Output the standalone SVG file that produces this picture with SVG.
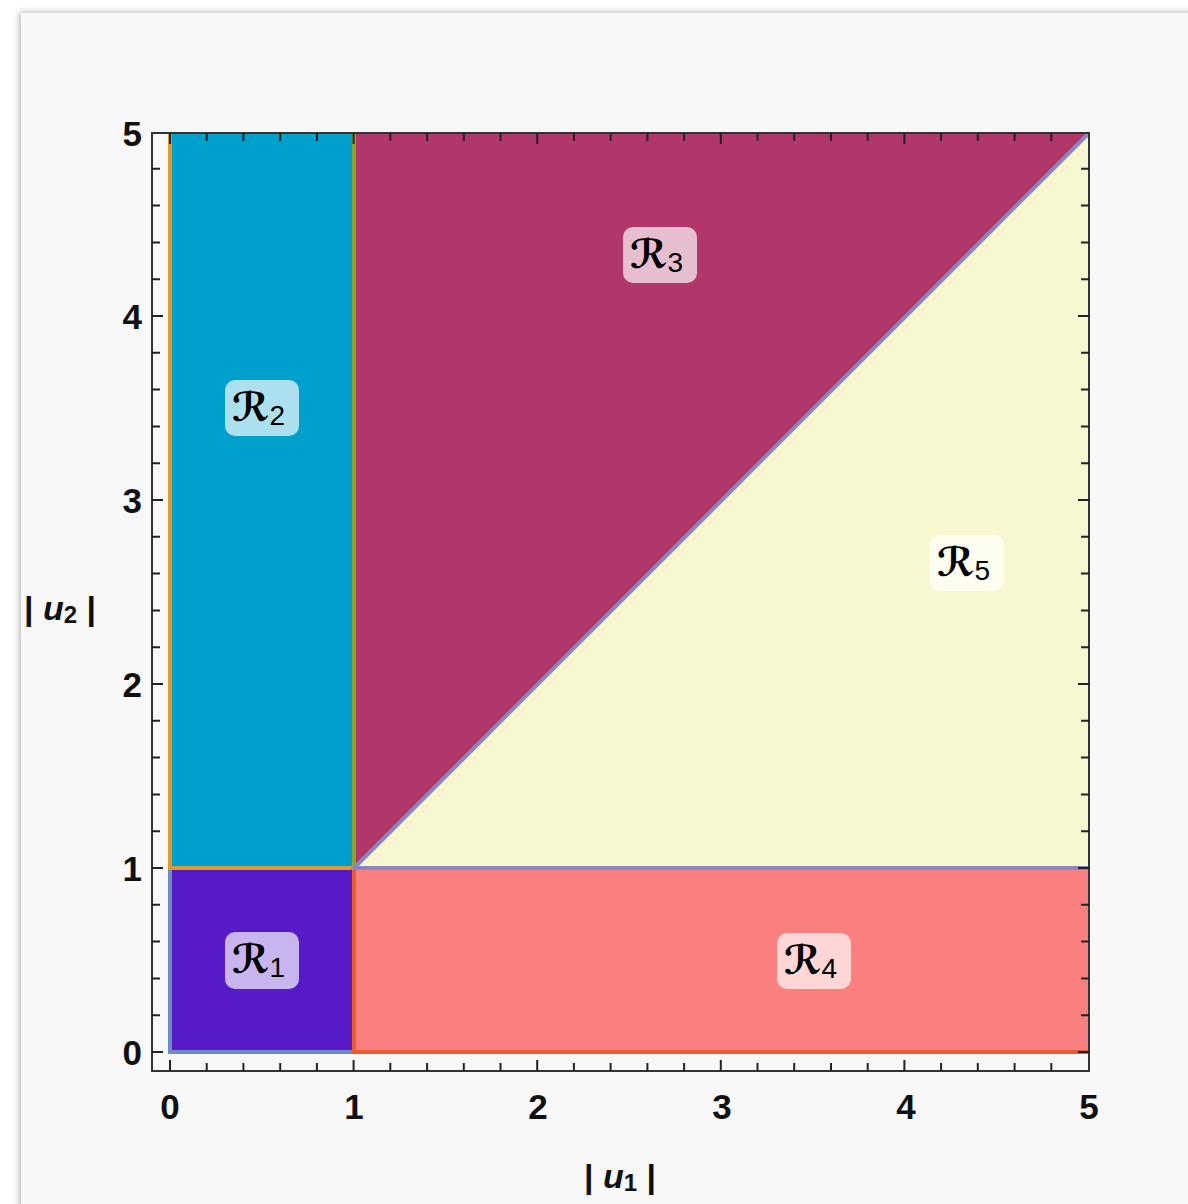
<svg xmlns="http://www.w3.org/2000/svg" width="1188" height="1204" viewBox="0 0 1188 1204">
<defs>
<filter id="sh" x="-5%" y="-5%" width="110%" height="110%"><feGaussianBlur stdDeviation="3"/></filter>
<style>
.tick{stroke:#222;stroke-width:2}
.num{font-family:"Liberation Sans",Arial,sans-serif;font-weight:bold;font-size:35px;fill:#111}
.lbox{fill:#ffffff;fill-opacity:0.68}
.lab{font-family:"DejaVu Sans","Noto Sans",sans-serif;font-weight:bold;font-size:40px;fill:#000}
.sub{font-family:"Liberation Sans",Arial,sans-serif;font-size:28px;fill:#000}
.ax{font-family:"Liberation Sans",Arial,sans-serif;font-weight:bold;font-size:34px;fill:#111}
</style>
</defs>
<rect width="1188" height="1204" fill="#ffffff"/>
<rect x="19" y="12" width="1200" height="1220" fill="#bbbbbb" filter="url(#sh)"/>
<rect x="21" y="13" width="1200" height="1220" fill="#f8f8f8"/>

<g id="regions">
<g id="R1"><rect x="170" y="868" width="184" height="184" fill="#561ac8"/></g>
<g id="R2"><rect x="170" y="133" width="184" height="735" fill="#00a0cc"/></g>
<g id="R3"><polygon points="354,133 1089,133 354,868" fill="#b1366b"/></g>
<g id="R5"><polygon points="1089,133 1089,868 354,868" fill="#f8f8d0"/></g>
<g id="R4"><rect x="354" y="868" width="735" height="184" fill="#fa7f7f"/></g>
</g>
<g id="connectors">
<polyline points="170,868 170,1052 354,1052" fill="none" stroke="#6f8cc4" stroke-width="4"/>
<polyline points="170,133 170,868 354,868" fill="none" stroke="#e0992e" stroke-width="4"/>
<line x1="354" y1="133" x2="354" y2="866" stroke="#8aa632" stroke-width="4"/>
<polyline points="354,868 354,1052 1089,1052" fill="none" stroke="#e85c34" stroke-width="4"/>
<polyline points="1089,133 354,868 1089,868" fill="none" stroke="#8a86c2" stroke-width="4"/>
</g>

<g id="frame">
<rect x="152" y="133" width="937" height="938" fill="none" stroke="#333" stroke-width="2"/>
<path class="tick" d="M170,1071v-11M353.6,1071v-11M537.2,1071v-11M720.8,1071v-11M904.4,1071v-11
M206.7,1071v-8M243.4,1071v-8M280.2,1071v-8M316.9,1071v-8M390.3,1071v-8M427.1,1071v-8M463.8,1071v-8M500.5,1071v-8M573.9,1071v-8M610.6,1071v-8M647.4,1071v-8M684.1,1071v-8M757.5,1071v-8M794.2,1071v-8M831,1071v-8M867.7,1071v-8M941.1,1071v-8M977.8,1071v-8M1014.6,1071v-8M1051.3,1071v-8
M170,133v11M353.6,133v11M537.2,133v11M720.8,133v11M904.4,133v11
M206.7,133v8M243.4,133v8M280.2,133v8M316.9,133v8M390.3,133v8M427.1,133v8M463.8,133v8M500.5,133v8M573.9,133v8M610.6,133v8M647.4,133v8M684.1,133v8M757.5,133v8M794.2,133v8M831,133v8M867.7,133v8M941.1,133v8M977.8,133v8M1014.6,133v8M1051.3,133v8
M152,1052h11M152,868h11M152,684h11M152,500h11M152,316h11
M152,1015.2h8M152,978.4h8M152,941.6h8M152,904.8h8M152,831.2h8M152,794.4h8M152,757.6h8M152,720.8h8M152,647.2h8M152,610.4h8M152,573.6h8M152,536.8h8M152,463.2h8M152,426.4h8M152,389.6h8M152,352.8h8M152,279.2h8M152,242.4h8M152,205.6h8M152,168.8h8
M1089,1052h-11M1089,868h-11M1089,684h-11M1089,500h-11M1089,316h-11
M1089,1015.2h-8M1089,978.4h-8M1089,941.6h-8M1089,904.8h-8M1089,831.2h-8M1089,794.4h-8M1089,757.6h-8M1089,720.8h-8M1089,647.2h-8M1089,610.4h-8M1089,573.6h-8M1089,536.8h-8M1089,463.2h-8M1089,426.4h-8M1089,389.6h-8M1089,352.8h-8M1089,279.2h-8M1089,242.4h-8M1089,205.6h-8M1089,168.8h-8"/>
<g class="num" text-anchor="middle">
<text x="170" y="1119">0</text><text x="354" y="1119">1</text><text x="538" y="1119">2</text><text x="722" y="1119">3</text><text x="906" y="1119">4</text><text x="1089" y="1119">5</text>
</g>
<g class="num" text-anchor="end">
<text x="142" y="1065">0</text><text x="142" y="881">1</text><text x="142" y="697">2</text><text x="142" y="513">3</text><text x="142" y="329">4</text><text x="142" y="146">5</text>
</g>
<text class="ax" x="620" y="1188" text-anchor="middle">| <tspan font-style="italic">u</tspan><tspan font-size="24" dy="3">1</tspan><tspan dy="-3"> |</tspan></text>
<text class="ax" x="60" y="620" text-anchor="middle">| <tspan font-style="italic">u</tspan><tspan font-size="24" dy="3">2</tspan><tspan dy="-3"> |</tspan></text>
</g>

<g id="label-R1"><rect class="lbox" x="225" y="932" width="74" height="57" rx="10"/><text x="232" y="973"><tspan class="lab">ℛ</tspan><tspan class="sub" dy="4">1</tspan></text></g>
<g id="label-R2"><rect class="lbox" x="225" y="380" width="74" height="56" rx="10"/><text x="232" y="421"><tspan class="lab">ℛ</tspan><tspan class="sub" dy="4">2</tspan></text></g>
<g id="label-R3"><rect class="lbox" x="623" y="227" width="74" height="56" rx="10"/><text x="630" y="268"><tspan class="lab">ℛ</tspan><tspan class="sub" dy="4">3</tspan></text></g>
<g id="label-R4"><rect class="lbox" x="777" y="933" width="74" height="56" rx="10"/><text x="784" y="974"><tspan class="lab">ℛ</tspan><tspan class="sub" dy="4">4</tspan></text></g>
<g id="label-R5"><rect class="lbox" x="930" y="535" width="74" height="56" rx="10"/><text x="937" y="576"><tspan class="lab">ℛ</tspan><tspan class="sub" dy="4">5</tspan></text></g>
</svg>
